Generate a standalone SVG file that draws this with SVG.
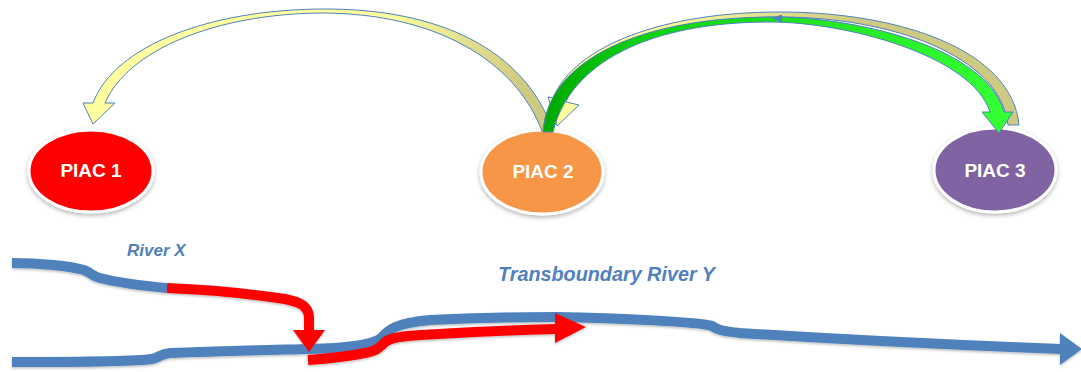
<svg xmlns="http://www.w3.org/2000/svg" width="1081" height="372" viewBox="0 0 1081 372">
<style>
.node{stroke:#FFFFFF;stroke-width:3;filter:url(#sh)}
.lbl{font-family:"Liberation Sans",Arial,sans-serif;font-weight:bold;font-size:19px;fill:#FFFFFF;text-anchor:middle}
.conn{stroke:#4F81BD;stroke-width:1;stroke-linejoin:round}
.river{fill:none;stroke:#4F81BD;stroke-width:10;stroke-linecap:butt;stroke-linejoin:round}
.flow{fill:none;stroke:#FF0000;stroke-width:10;stroke-linecap:butt;stroke-linejoin:round}
.rlbl{font-family:"Liberation Sans",Arial,sans-serif;font-weight:bold;font-style:italic;fill:#4F81BD}
</style>
<defs>
<filter id="sh" x="-20%" y="-20%" width="140%" height="150%">
<feDropShadow dx="0" dy="2" stdDeviation="2" flood-color="#000000" flood-opacity="0.3"/>
</filter>
<filter id="sh2" x="-5%" y="-50%" width="110%" height="200%">
<feDropShadow dx="0" dy="1.5" stdDeviation="1.2" flood-color="#000000" flood-opacity="0.25"/>
</filter>
<linearGradient id="gYL" gradientUnits="userSpaceOnUse" x1="380" y1="0" x2="525" y2="0">
<stop offset="0" stop-color="#FFFFA0"/>
<stop offset="1" stop-color="#CFCA82"/>
</linearGradient>
<linearGradient id="gYR" gradientUnits="userSpaceOnUse" x1="640" y1="0" x2="860" y2="0">
<stop offset="0" stop-color="#FFFFA0"/>
<stop offset="1" stop-color="#CFCA82"/>
</linearGradient>
<linearGradient id="gG" gradientUnits="userSpaceOnUse" x1="545" y1="0" x2="1000" y2="0">
<stop offset="0" stop-color="#00A800"/>
<stop offset="0.2" stop-color="#10D010"/>
<stop offset="1" stop-color="#33FF33"/>
</linearGradient>
</defs>

<g id="node-piac1">
<ellipse class="node" cx="91" cy="171" rx="62" ry="41" fill="#FF0000"/>
<text class="lbl" x="91" y="177">PIAC 1</text>
</g>
<g id="node-piac2">
<ellipse class="node" cx="542" cy="172" rx="61" ry="42" fill="#F79646"/>
<text class="lbl" x="543" y="178">PIAC 2</text>
</g>
<g id="node-piac3">
<ellipse class="node" cx="995" cy="170" rx="61" ry="42" fill="#8064A2"/>
<text class="lbl" x="995" y="177">PIAC 3</text>
</g>

<g id="connectors">
<path id="arrow-2-to-1" class="conn" fill="url(#gYL)" d="M 83,103 L 93,103 C 115,45 210,10 321,9 C 440,8 525,50 553,131 L 542,131 C 515,60 435,13 321,13 C 215,14 128,50 105,103 L 115,103 L 93,124 Z"/>
<path id="arrow-3-to-2" class="conn" fill="url(#gYR)" d="M 1019,125 C 1012,50 900,12 780,12 C 665,12 575,45 553,98 L 548,97 L 557,126 L 579,105 L 566,102 C 585,52 670,17 780,17 C 890,17 1000,55 1008,125 Z"/>
<path id="arrow-2-to-3" class="conn" fill="url(#gG)" d="M 543,132 C 548,60 640,17 775,17 C 850,17 985,45 1004,112 L 1013,112 L 999,133 L 982,112 L 990,112 C 972,55 845,22 770,22 C 650,22 570,62 553,132 Z"/>
<polygon points="772,18 782,14.5 782,22.5" fill="#4F81BD"/>
</g>

<g id="rivers" filter="url(#sh2)">
<path id="river-x" class="river" d="M 12,263 C 40,263 70,266 84,270 C 92,273 92,276 100,278 C 120,283 145,286 167,288"/>
<path id="river-y" class="river" d="M 12,362 C 80,362 140,361 152,359 C 160,357 160,354 170,353 C 220,351 270,350 310,349 C 350,348 372,344 380,339 C 388,330 395,323 430,320 C 470,318 520,317 555,317 C 620,318 700,322 712,326 C 718,330 722,331 740,333 C 850,340 980,346 1061,349"/>
<polygon points="1060,333 1082,349 1060,365" fill="#4F81BD"/>
<path id="flow-x" class="flow" d="M 167,288 C 220,290 265,296 285,299 C 300,302 309,306 309,318 L 309,331"/>
<polygon points="293,330 325,330 309,352" fill="#FF0000"/>
<path id="flow-y" class="flow" d="M 308,360 C 335,358 355,355 365,353 C 375,351 378,349 382,345 C 388,338 395,337 420,335 C 470,332 520,330 556,329"/>
<polygon points="555,313 586,327 555,343" fill="#FF0000"/>
</g>

<text class="rlbl" x="127" y="256" font-size="17">River X</text>
<text class="rlbl" x="498" y="281" font-size="19.8">Transboundary River Y</text>
</svg>
